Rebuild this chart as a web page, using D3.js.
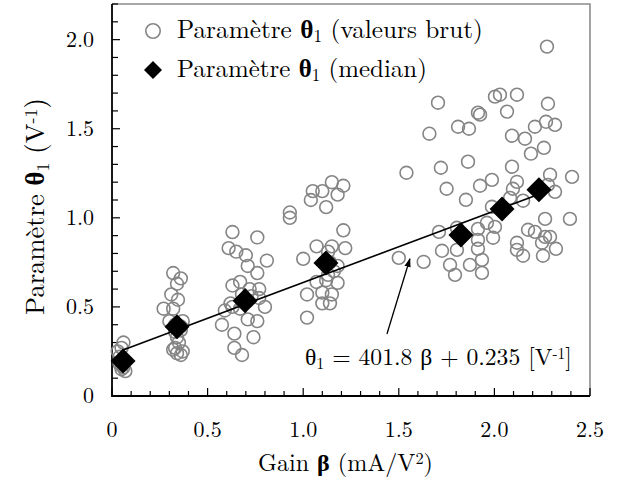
<!DOCTYPE html>
<html><head><meta charset="utf-8">
<script src="https://cdn.jsdelivr.net/npm/d3@7/dist/d3.min.js"></script>
<style>body{margin:0;background:#fff}svg{display:block}.lm{font-family:'Latin Modern Roman',serif}</style>
</head><body><svg id="c" width="630" height="494"></svg>
<script>
// ---- data ----
const rawBeta = [
 0.06,0.05,0.03,0.04,0.06,0.05,0.06,0.05,0.07,0.04,
 0.32,0.36,0.34,0.31,0.345,0.27,0.32,0.30,0.37,0.33,0.36,0.34,0.35,0.33,0.37,0.34,0.36,0.32,0.36,0.33,
 0.63,0.76,0.61,0.65,0.70,0.81,0.71,0.76,0.63,0.67,0.77,0.68,0.77,0.59,0.63,0.67,0.80,0.575,0.71,0.76,0.64,0.74,0.64,0.68,0.72,0.62,0.73,
 1.15,1.21,1.05,1.10,1.18,1.04,1.12,0.93,0.93,1.21,1.07,1.15,1.22,1.00,1.18,1.07,1.12,1.18,1.02,1.10,1.15,1.10,1.14,1.02,1.14,1.16,1.13,1.13,
 1.50,1.63,1.54,1.66,1.705,1.72,1.75,1.81,1.867,1.862,1.851,1.914,1.925,1.925,1.987,1.987,2.003,2.029,1.710,1.804,1.914,1.961,2.003,1.914,1.993,1.726,1.804,1.914,1.768,1.872,1.935,1.794,1.935,
 2.066,2.118,2.280,2.212,2.270,2.317,2.092,2.160,2.259,2.191,2.092,2.291,2.406,2.118,2.097,2.280,2.317,2.082,2.150,2.275,2.265,2.395,2.176,2.212,2.265,2.291,2.118,2.249,2.118,2.150,2.322,2.254
];
const rawTheta = [
 0.30,0.27,0.25,0.22,0.19,0.17,0.16,0.15,0.14,0.18,
 0.69,0.66,0.63,0.57,0.54,0.49,0.49,0.42,0.42,0.40,0.37,0.33,0.30,0.27,0.25,0.24,0.23,0.26,0.39,0.36,
 0.92,0.89,0.83,0.81,0.79,0.76,0.73,0.69,0.62,0.64,0.60,0.57,0.55,0.48,0.50,0.49,0.50,0.40,0.43,0.42,0.35,0.33,0.27,0.23,0.60,0.52,0.56,
 1.20,1.18,1.15,1.15,1.13,1.10,1.06,1.03,1.00,0.93,0.84,0.84,0.83,0.77,0.73,0.64,0.65,0.635,0.57,0.58,0.57,0.52,0.52,0.44,0.75,0.70,0.68,0.81,
 0.775,0.753,1.253,1.472,1.646,1.281,1.163,1.511,1.50,1.315,1.101,1.590,1.579,1.180,1.213,1.062,1.680,1.691,0.921,0.944,0.938,0.972,0.949,0.876,0.888,0.815,0.820,0.826,0.736,0.736,0.764,0.680,0.691,
 1.596,1.691,1.640,1.511,1.539,1.522,1.461,1.444,1.393,1.360,1.287,1.242,1.230,1.202,1.163,1.185,1.146,1.112,1.096,1.961,0.994,0.994,0.933,0.921,0.893,0.893,0.860,0.860,0.820,0.787,0.826,0.787
];
const medianBeta  = [0.058,0.34,0.696,1.119,1.825,2.04,2.233];
const medianTheta = [0.197,0.388,0.534,0.747,0.904,1.05,1.157];
const fitSlope = 0.4018, fitIntercept = 0.235;   // θ1 = 401.8 β + 0.235 (β in A/V²)
const fitRange = [0.058, 2.233];
const xTickLabels = ["0","0.5","1.0","1.5","2.0","2.5"];
const yTickLabels = ["0","0.5","1.0","1.5","2.0"];
const arrowFrom = [1.438,0.348], arrowTo = [1.558,0.77];

// ---- layout ----
const L=112,T=4,R=590,B=396;
const svg=d3.select("#c");
const x=d3.scaleLinear().domain([0,2.5]).range([L,R]);
const y=d3.scaleLinear().domain([0,2.2]).range([B,T]);

function fit(sel,target){
  const w=sel.node().getBBox().width;
  sel.attr("font-size",20*target/w);
}

// frame (top/right)
svg.append("path").attr("d",`M${L},${T}H${R}V${B}`).attr("fill","none").attr("stroke","#8c8c8c").attr("stroke-width",1.6);

// axes
const minorX=d3.range(0,2.5001,0.1), minorY=d3.range(0,2.2001,0.1);
const isMajor=d=>Math.abs(d*2-Math.round(d*2))<1e-6;
const gx=svg.append("g");
gx.selectAll("line").data(minorX).join("line")
 .attr("x1",d=>x(d)).attr("x2",d=>x(d)).attr("y1",B)
 .attr("y2",d=>isMajor(d)?B-8:B-5)
 .attr("stroke","#000").attr("stroke-width",1.2);
gx.selectAll("text").data(xTickLabels).join("text").attr("class","lm")
 .attr("x",d=>x(+d)).attr("y",437).attr("text-anchor","middle").attr("font-size",22).text(d=>d);
const gy=svg.append("g");
gy.selectAll("line").data(minorY).join("line")
 .attr("y1",d=>y(d)).attr("y2",d=>y(d)).attr("x1",L)
 .attr("x2",d=>isMajor(d)?L+8:L+6)
 .attr("stroke","#000").attr("stroke-width",1.2);
gy.selectAll("text").data(yTickLabels).join("text").attr("class","lm")
 .attr("x",94).attr("y",d=>y(+d)+7).attr("text-anchor","end").attr("font-size",22).text(d=>d);
svg.append("path").attr("d",`M${L},${T}V${B}H${R}`).attr("fill","none").attr("stroke","#000").attr("stroke-width",1.8);

// raw points
const pts=rawBeta.map((b,i)=>[b,rawTheta[i]]);
svg.append("g").selectAll("circle").data(pts).join("circle")
 .attr("cx",d=>x(d[0])).attr("cy",d=>y(d[1])).attr("r",6.4)
 .attr("fill","none").attr("stroke","#858585").attr("stroke-width",1.6);

// fit line
svg.append("line").attr("x1",x(fitRange[0])).attr("y1",y(fitSlope*fitRange[0]+fitIntercept))
 .attr("x2",x(fitRange[1])).attr("y2",y(fitSlope*fitRange[1]+fitIntercept))
 .attr("stroke","#000").attr("stroke-width",1.6);

// medians
const diamond=(cx,cy,h)=>`M${cx},${cy-h}L${cx+h},${cy}L${cx},${cy+h}L${cx-h},${cy}Z`;
svg.append("g").selectAll("path").data(medianBeta.map((b,i)=>[b,medianTheta[i]])).join("path")
 .attr("d",d=>diamond(x(d[0]),y(d[1]),12.5)).attr("fill","#000");

// arrow
svg.append("defs").append("marker").attr("id","ah").attr("viewBox","0 0 10 10").attr("refX",9).attr("refY",5)
 .attr("markerWidth",7).attr("markerHeight",7).attr("orient","auto")
 .append("path").attr("d","M0,1.5L10,5L0,8.5Z").attr("fill","#000");
svg.append("line").attr("x1",x(arrowFrom[0])).attr("y1",y(arrowFrom[1]))
 .attr("x2",x(arrowTo[0])).attr("y2",y(arrowTo[1]))
 .attr("stroke","#000").attr("stroke-width",1.3).attr("marker-end","url(#ah)");

// equation
const eq=svg.append("text").attr("class","lm").attr("x",305).attr("y",365).attr("font-size",20);
eq.append("tspan").text("θ");
eq.append("tspan").attr("font-size","0.68em").attr("dy","0.25em").text("1");
eq.append("tspan").attr("dy","-0.17em").text(" = 401.8 β + 0.235 [V");
eq.append("tspan").attr("font-size","0.65em").attr("dy","-0.4em").text("-1");
eq.append("tspan").attr("dy","0.26em").text("]");
fit(eq,267);

// legend
svg.append("circle").attr("cx",153).attr("cy",31).attr("r",7.2).attr("fill","none").attr("stroke","#858585").attr("stroke-width",1.6);
svg.append("path").attr("d",diamond(153,70,9)).attr("fill","#000");
function paramText(sel,suffix){
  sel.attr("class","lm");
  sel.append("tspan").text("Paramètre ");
  sel.append("tspan").attr("font-weight","bold").text("θ");
  sel.append("tspan").attr("font-size","0.68em").attr("dy","0.25em").text("1");
  sel.append("tspan").attr("dy","-0.17em").text(suffix);
  return sel;
}
fit(paramText(svg.append("text").attr("x",177).attr("y",38).attr("font-size",20)," (valeurs brut)"),306);
fit(paramText(svg.append("text").attr("x",177).attr("y",77).attr("font-size",20)," (median)"),250);

// axis titles
const xt=svg.append("text").attr("class","lm").attr("x",345.5).attr("y",471).attr("text-anchor","middle").attr("font-size",20);
xt.append("tspan").text("Gain ");
xt.append("tspan").attr("font-weight","bold").text("β");
xt.append("tspan").text(" (mA/V");
xt.append("tspan").attr("font-size","0.68em").attr("dy","-0.4em").text("2");
xt.append("tspan").attr("dy","0.27em").text(")");
fit(xt,175);
const yt=svg.append("text").attr("class","lm").attr("transform","translate(44,206.5) rotate(-90)").attr("text-anchor","middle").attr("font-size",20);
yt.append("tspan").text("Paramètre ");
yt.append("tspan").attr("font-weight","bold").text("θ");
yt.append("tspan").attr("font-size","0.68em").attr("dy","0.25em").text("1");
yt.append("tspan").attr("dy","-0.17em").text(" (V");
yt.append("tspan").attr("font-size","0.68em").attr("dy","-0.4em").text("-1");
yt.append("tspan").attr("dy","0.27em").text(")");
fit(yt,217);
</script></body></html>
